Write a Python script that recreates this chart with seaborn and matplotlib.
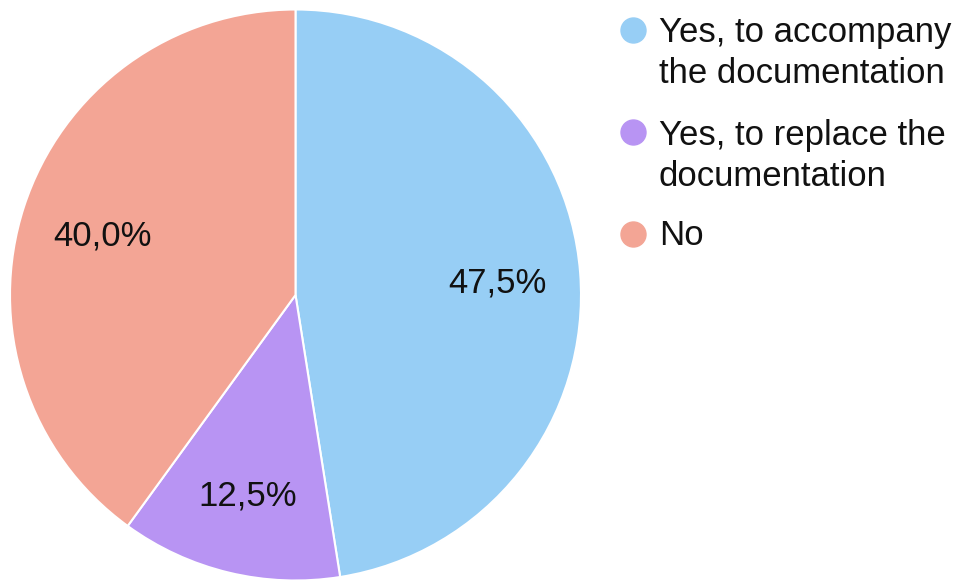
import matplotlib
matplotlib.use('Agg')
import matplotlib.pyplot as plt
import seaborn as sns
from matplotlib.lines import Line2D

sns.set_theme(style='white')
plt.rcParams['font.family'] = ['Liberation Sans', 'DejaVu Sans']

# ── Data ────────────────────────────────────────────────────────────────
categories = ["Yes, to accompany\nthe documentation",
              "Yes, to replace the\ndocumentation",
              "No"]
shares = [47.5, 12.5, 40.0]
colors = ["#97CEF5", "#B894F3", "#F3A595"]

# ── Figure ─────────────────────────────────────────────────────────────
W, H = 957, 581
fig = plt.figure(figsize=(W / 100, H / 100), dpi=100)
fig.patch.set_facecolor('white')

cx, cy, r = 295.5, 295.0, 285.5
ax = fig.add_axes([(cx - r) / W, (H - cy - r) / H, 2 * r / W, 2 * r / H])

wedges, texts, autotexts = ax.pie(
    shares, colors=colors, startangle=90, counterclock=False,
    autopct=lambda p: f"{p:.1f}%".replace('.', ','), pctdistance=0.71,
    wedgeprops={'edgecolor': 'white', 'linewidth': 1.5},
    textprops={'fontsize': 25, 'color': '#111111'})
for t in autotexts:
    t.set_va('center_baseline')
ax.set_xlim(-1, 1)
ax.set_ylim(-1, 1)
ax.set_aspect('equal')
ax.axis('off')

# ── Legend (marker aligned with first line of each label) ──────────────
marker_y = [30, 132, 234]
baseline_y = [42, 145, 245]
line_step = 41
for lab, col, my, by in zip(categories, colors, marker_y, baseline_y):
    fig.add_artist(Line2D([633 / W], [(H - my) / H], marker='o', linestyle='',
                          markersize=18, markerfacecolor=col, markeredgecolor=col,
                          transform=fig.transFigure))
    for i, line in enumerate(lab.split('\n')):
        fig.text(659 / W, (H - by - i * line_step) / H, line, fontsize=25,
                 color='#111111', ha='left', va='baseline')

fig.savefig('out.png', dpi=100, facecolor='white')
